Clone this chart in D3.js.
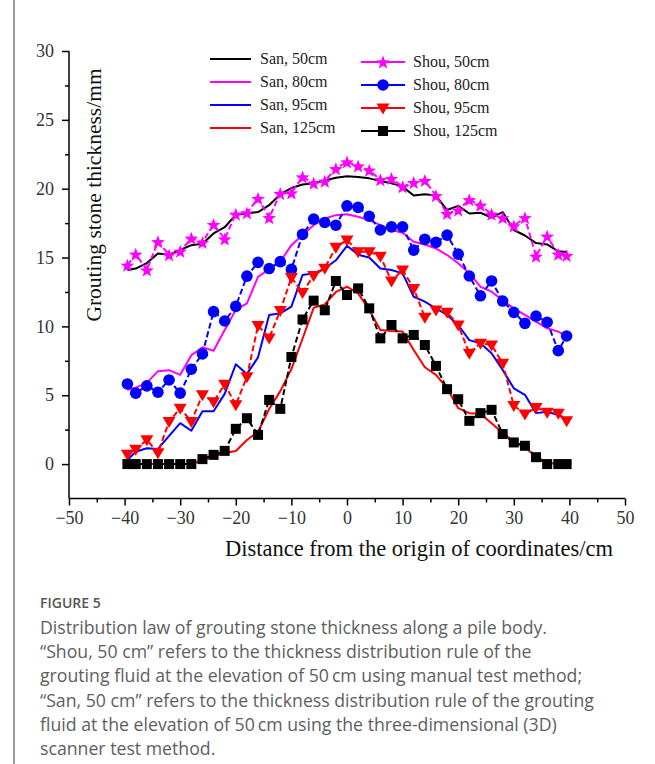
<!DOCTYPE html>
<html><head><meta charset="utf-8">
<script src="https://cdn.jsdelivr.net/npm/d3@7"></script>
<style>
html,body{margin:0;padding:0;background:#fff;}
svg{display:block;}
</style></head>
<body>
<svg id="chart" width="655" height="764"></svg>
<script>
// ---------- data ----------
const positions = [-39.5,-38,-36,-34,-32,-30,-28,-26,-24,-22,-20,-18,-16,-14,-12,-10,-8,-6,-4,-2,0,2,4,6,8,10,12,14,16,18,20,22,24,26,28,30,32,34,36,38,39.5];
const san50  = [14.1,14.2,14.6,15.3,15.2,15.55,15.9,16.0,16.75,17.2,18.1,18.2,18.3,18.8,19.6,20.05,20.3,20.4,20.6,20.8,20.9,20.85,20.75,20.55,20.4,20.15,19.5,19.6,19.5,18.45,18.75,18.2,18.25,17.9,18.3,17.0,16.6,16.05,15.95,15.45,15.4];
const san80  = [5.4,5.55,5.9,6.75,6.82,6.48,7.9,8.48,8.23,9.74,11.2,11.67,13.6,14.15,14.7,15.9,16.63,17.35,17.84,18.08,18.15,17.96,17.72,17.35,17.0,16.8,16.14,15.95,15.66,15.18,14.58,13.85,12.88,12.52,11.9,11.3,10.83,10.34,9.86,9.62,9.3];
const san95  = [0.3,0.9,1.15,1.1,2.05,2.97,2.42,3.84,3.84,5.1,7.25,6.55,7.75,10.83,10.95,11.43,13.73,13.85,14.2,14.8,15.85,15.2,15.0,14.2,14.09,13.85,12.15,11.8,11.3,10.83,10.1,9.0,8.77,8.05,6.84,5.5,5.03,3.7,3.8,3.57,3.25];
const san125 = [0,0,0,0,0,0,0,0.28,0.55,0.8,0.95,1.75,2.35,4.0,5.3,6.9,9.1,11.35,11.6,12.5,12.88,12.4,11.19,9.74,9.67,9.62,8.29,7.03,6.48,5.51,4.06,3.7,3.65,2.97,2.25,1.64,1.2,0.55,0.1,0,0];
const shou50  = [14.45,15.25,14.1,16.15,15.2,15.47,16.4,16.1,17.4,16.35,18.15,18.25,19.3,17.9,19.65,19.7,20.85,20.4,20.55,21.45,21.95,21.65,21.35,20.65,20.75,20.15,20.45,20.6,19.5,18.2,18.45,19.2,18.8,18.15,17.9,17.3,17.9,15.1,16.55,15.25,15.15];
const shou80  = [5.82,5.15,5.68,5.22,6.11,5.15,6.89,8.0,11.07,10.39,11.45,13.65,14.65,14.2,14.7,14.14,16.68,17.79,17.55,17.35,18.75,18.64,18.0,17.0,17.23,17.23,15.54,16.32,16.1,16.63,15.25,13.66,12.22,13.3,11.84,11.02,10.22,10.75,10.3,8.24,9.3];
const shou95  = [0.72,1.07,1.76,0.82,3.09,4.06,3.09,5.03,4.52,5.8,4.3,6.35,10.07,9.15,11.15,13.55,12.46,13.7,14.23,15.75,16.28,15.42,15.42,15.1,13.3,14.1,12.76,10.66,11.19,11.02,10.1,8.05,8.77,8.65,7.32,4.25,3.63,4.1,3.77,3.7,3.14];
const shou125 = [0,0,0,0,0,0,0,0.36,0.67,0.96,2.56,3.33,2.12,4.66,4.01,7.78,10.5,11.87,11.17,13.3,12.28,12.76,11.31,9.13,10.1,9.13,9.38,8.65,7.13,5.44,4.71,3.14,3.7,3.94,2.18,1.57,1.33,0.5,0,0,0];

const sanNames  = ["San, 50cm","San, 80cm","San, 95cm","San, 125cm"];
const shouNames = ["Shou, 50cm","Shou, 80cm","Shou, 95cm","Shou, 125cm"];
const sanColors  = ["#000000","#ff00ff","#0000ff","#ff0000"];
const shouColors = ["#ff00ff","#0000ff","#ff0000","#000000"];
const shouMarkers = ["star","circle","triangle","square"];
const xTicks = [-50,-40,-30,-20,-10,0,10,20,30,40,50];
const yTicks = [0,5,10,15,20,25,30];
const xLabel = "Distance from the origin of coordinates/cm";
const yLabel = "Grouting stone thickness/mm";
const figTitle = "FIGURE 5";
const captionLines = [
  "Distribution law of grouting stone thickness along a pile body.",
  "\u201CShou, 50 cm\u201D refers to the thickness distribution rule of the",
  "grouting fluid at the elevation of 50\u2009cm using manual test method;",
  "\u201CSan, 50 cm\u201D refers to the thickness distribution rule of the grouting",
  "fluid at the elevation of 50\u2009cm using the three-dimensional (3D)",
  "scanner test method."
];

// ---------- drawing ----------
const svg = d3.select("#chart");
const serif = "'Liberation Serif','Times New Roman',serif";

// left page border
svg.append("rect").attr("x",13).attr("y",0).attr("width",2).attr("height",764).attr("fill","#9c9c9c");

const x = d3.scaleLinear().domain([-50,50]).range([69,625]);
const y = d3.scaleLinear().domain([-2.5,30]).range([498.5,51]);

const minorX = d3.range(-45,50,10);
const minorY = d3.range(2.5,30,5);

const gx = svg.append("g").attr("transform",`translate(0,${y(-2.5)})`);
gx.call(d3.axisBottom(x).tickValues(xTicks).tickSize(7).tickSizeOuter(0).tickPadding(6));
gx.append("g").call(d3.axisBottom(x).tickValues(minorX).tickSize(4).tickFormat(""));
const gy = svg.append("g").attr("transform",`translate(${x(-50)},0)`);
gy.call(d3.axisLeft(y).tickValues(yTicks).tickSize(7).tickSizeOuter(0).tickPadding(8));
gy.append("g").call(d3.axisLeft(y).tickValues(minorY).tickSize(4).tickFormat(""));
gx.selectAll("g.tick line").attr("stroke","#000").attr("stroke-width",1.5);
gy.selectAll("g.tick line").attr("stroke","#000").attr("stroke-width",1.5);
svg.selectAll(".domain").remove();
svg.append("line").attr("x1",x(-50)).attr("x2",x(50)).attr("y1",y(-2.5)).attr("y2",y(-2.5)).attr("stroke","#000").attr("stroke-width",1.5);
svg.append("line").attr("x1",x(-50)).attr("x2",x(-50)).attr("y1",y(-2.5)).attr("y2",y(30)).attr("stroke","#000").attr("stroke-width",1.5);
svg.selectAll("g.tick text").attr("font-family",serif).attr("font-size",18).attr("fill","#333");

// axis labels
svg.append("text").attr("x",419).attr("y",556).attr("text-anchor","middle")
  .attr("font-family",serif).attr("font-size",22.5).attr("fill","#111").text(xLabel);
svg.append("text").attr("transform","translate(101,195) rotate(-90)").attr("text-anchor","middle")
  .attr("font-family",serif).attr("font-size",21.5).attr("fill","#111").text(yLabel);

// series
const sanData = [san50,san80,san95,san125];
const shouData = [shou50,shou80,shou95,shou125];
const line = d3.line().x((d,i)=>x(positions[i])).y(d=>y(d));

sanData.forEach((vals,k)=>{
  svg.append("path").datum(vals).attr("d",line).attr("fill","none")
    .attr("stroke",sanColors[k]).attr("stroke-width",2).attr("stroke-linejoin","round");
});

function starPath(r){
  const pts=[];
  for(let i=0;i<10;i++){
    const rr = i%2===0 ? r : r*0.42;
    const a = -Math.PI/2 + i*Math.PI/5;
    pts.push([rr*Math.cos(a), rr*Math.sin(a)]);
  }
  return "M"+pts.map(p=>p[0].toFixed(2)+","+p[1].toFixed(2)).join("L")+"Z";
}
function drawMarker(g,type,cx,cy,color){
  if(type==="star"){
    g.append("path").attr("d",starPath(7.2)).attr("transform",`translate(${cx},${cy+0.8})`).attr("fill",color);
  } else if(type==="circle"){
    g.append("circle").attr("cx",cx).attr("cy",cy).attr("r",5.8).attr("fill",color);
  } else if(type==="triangle"){
    g.append("path").attr("d","M-6.5,-4.5L6.5,-4.5L0,6.5Z").attr("transform",`translate(${cx},${cy})`).attr("fill",color);
  } else {
    g.append("rect").attr("x",cx-5).attr("y",cy-5).attr("width",10).attr("height",10).attr("fill",color);
  }
}

shouData.forEach((vals,k)=>{
  const g = svg.append("g");
  g.append("path").datum(vals).attr("d",line).attr("fill","none")
    .attr("stroke",shouColors[k]).attr("stroke-width",2).attr("stroke-dasharray","6,3");
  vals.forEach((v,i)=>drawMarker(g,shouMarkers[k],x(positions[i]),y(v),shouColors[k]));
});

// legend
const leg = svg.append("g");
const rowsA = [59,82,105,128];
const rowsB = [62,85,108,131];
sanNames.forEach((n,k)=>{
  leg.append("line").attr("x1",210).attr("x2",251).attr("y1",rowsA[k]).attr("y2",rowsA[k])
    .attr("stroke",sanColors[k]).attr("stroke-width",2);
  leg.append("text").attr("x",260).attr("y",rowsA[k]+5).attr("font-family",serif).attr("font-size",16)
    .attr("fill","#222").text(n);
});
shouNames.forEach((n,k)=>{
  leg.append("line").attr("x1",361).attr("x2",405).attr("y1",rowsB[k]).attr("y2",rowsB[k])
    .attr("stroke",shouColors[k]).attr("stroke-width",2);
  drawMarker(leg,shouMarkers[k],383,rowsB[k],shouColors[k]);
  leg.append("text").attr("x",413).attr("y",rowsB[k]+5).attr("font-family",serif).attr("font-size",16)
    .attr("fill","#222").text(n);
});

// caption
const sans = "'Open Sans','Noto Sans',sans-serif";
svg.append("text").attr("x",40).attr("y",608).attr("font-family",sans).attr("font-size",14)
  .attr("font-weight",600).attr("fill","#555").text(figTitle);
captionLines.forEach((t,i)=>{
  svg.append("text").attr("x",40).attr("y",634+i*24.2).attr("font-family",sans).attr("font-size",17.7)
    .attr("fill","#5e5e5e").text(t);
});
</script>
</body></html>
